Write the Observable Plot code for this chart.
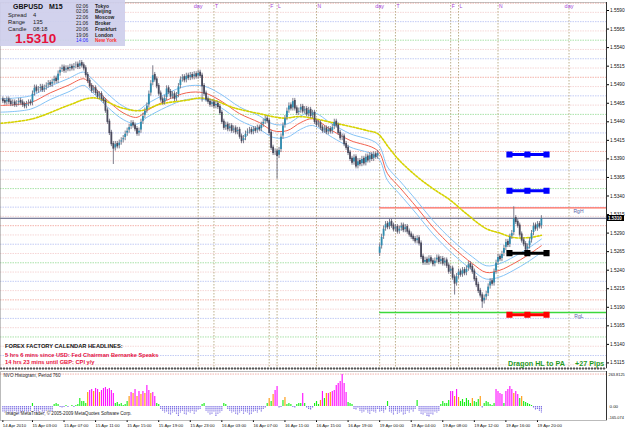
<!DOCTYPE html>
<html>
<head>
<meta charset="utf-8">
<script src="https://cdn.jsdelivr.net/npm/d3@7"></script>
<script src="https://cdn.jsdelivr.net/npm/@observablehq/plot@0.6"></script>
<style>
  html, body { margin:0; padding:0; background:#fff; }
  #chart { position:relative; width:625px; height:429px; overflow:hidden; font-family:"Liberation Sans", Arial, sans-serif; background:#fff; }
  #chart > svg { position:absolute; left:0; }
  .ov { position:absolute; white-space:nowrap; line-height:1; }
</style>
</head>
<body>
<div id="chart"></div>
<script>
// ================= DATA =================
// Bar index: 0 = 15 Apr 2010 00:00 (M15 bars). First bar = 14 Apr 23:15.
const FIRST_BAR = -3;
// GBPUSD closes, in pips above 1.5000
const closePips = [
  468,466,470,467,464,466,463,465,468,466,463,461,464,466,465,
  478,486,482,484,487,483,486,489,492,490,494,498,495,
  505,510,513,509,512,511,514,512,515,517,514,519,516,512,
  503,495,488,482,485,479,474,477,471,468,
  455,440,425,410,404,410,407,412,
  415,418,424,428,433,438,435,
  430,424,428,440,448,455,462,
  478,492,503,497,488,
  478,470,466,472,
  485,480,474,477,471,476,
  488,497,500,496,502,499,503,500,504,501,506,502,488,
  478,470,
  467,463,466,461,464,460,
  452,440,432,436,
  430,434,428,431,426,429,
  420,414,418,
  424,427,429,426,430,428,432,430,436,440,444,441,
  425,405,398,
  400,394,402,
  420,435,445,
  455,462,458,468,
  458,452,455,
  460,454,457,450,456,448,452,
  440,436,438,432,428,431,426,430,427,433,
  440,435,
  425,418,420,410,405,
  398,390,385,392,380,387,383,
  390,384,393,388,395,390,396,393,398,
  // Monday 19 Apr
  272,285,
  296,302,298,305,
  300,295,298,292,296,300,294,298,292,288,
  285,282,279,283,276,
  258,250,
  254,250,256,252,248,253,257,251,255,249,253,
  246,238,242,230,222,232,
  238,234,240,236,242,
  248,244,238,
  228,220,212,206,198,203,208,
  218,225,222,
  238,250,258,255,262,
  270,278,274,285,290,
  310,305,300,
  288,280,275,268,272,
  280,290,
  300,296,302,299,310
];
const firstOpenPips = 470;
const gapOpens = [{i: 188, o: 262}];            // Monday opening price after the weekend gap
const longWicks = [
  {i: 53, lo: 386}, {i: 98, lo: 470}, {i: 136, lo: 366}, {i: 226, lo: 210},
  {i: 240, lo: 192}, {i: 73, hi: 512}, {i: 256, hi: 322}
];

// Moving averages (knots: bar index, pips above 1.5000)
const slowMA_i = [-4,12,30,41,46,57,67,77,90,97,104,114,127,139,148,164,182,187,193,198,207,215,224,232,242,249,256,264,270];
const slowMA_p = [438,444,462,472,471,459,455,464,469,472,469,459,451,445,447,439,428,424,404,388,366,350,334,316,296,290,284,284,287];
const fastMA_i = [-4,11,21,30,38,41,50,58,65,70,80,90,99,107,117,127,134,141,148,154,164,173,187,192,198,207,215,225,235,242,249,256,263,270];
const fastMA_p = [462,466,479,489,498,492,469,452,446,455,469,479,479,469,451,439,428,428,439,444,428,415,401,370,352,324,298,271,249,237,240,249,260,273];
const envUp_p  = [471,475,488,498,507,501,478,461,455,464,478,488,488,478,460,448,437,437,448,453,437,424,410,379,361,333,307,280,258,246,249,258,269,282];
const envLo_p  = [453,457,470,480,489,483,460,443,437,446,460,470,470,460,442,430,419,419,430,435,419,406,392,361,343,315,289,262,240,228,231,240,251,264];

// Session separators
const sessionIdx    = [96, 104, 132, 136, 156, 188, 196, 224, 228, 248, 284];
const sessionLabels = ["day","T","F","L","N","day","T","F","L","N","day"];

// Range lines and level markers
const rangeLabels = ["RgH", "RgL"];
const rangePrices = [1.5324, 1.5183];
const rangeColors = ["#ff6a5a", "#3cd83c"];
const rangeStart = 188;
const levelNames  = ["blue1", "blue2", "black", "red"];
const levelPrices = [1.5396, 1.5347, 1.5263, 1.5180];
const levelColors = ["#0000ff", "#0000ff", "#000000", "#ff0000"];
const levelTimes  = [253.8, 262.9, 272.6];
const currentPrice = 1.5310;

// Price axis
const priceTicks = [1.5115,1.5140,1.5165,1.5190,1.5215,1.5240,1.5265,1.5290,1.5315,1.5340,
                    1.5365,1.5390,1.5415,1.5440,1.5465,1.5490,1.5515,1.5540,1.5565,1.5590];
// Time axis
const timeTicks  = [-3,12,28,44,60,76,92,108,124,140,156,172,188,204,220,236,252,268];
const timeLabels = ["14 Apr 2010","15 Apr 03:00","15 Apr 07:00","15 Apr 11:00","15 Apr 15:00","15 Apr 19:00",
  "15 Apr 23:00","16 Apr 03:00","16 Apr 07:00","16 Apr 11:00","16 Apr 15:00","16 Apr 19:00",
  "19 Apr 00:00","19 Apr 04:00","19 Apr 08:00","19 Apr 12:00","19 Apr 16:00","19 Apr 20:00"];

// NVO histogram, Period 760 (one value per bar)
const histValues = [
  -48,-56,-40,-64,-48,-56,-40,-48,-64,-56,-48,-40,-56,-48,-40,
  24,
  -40,-56,-48,-32,-48,-56,-40,-32,-48,-40,
  16,24,
  16,-8,-16,-8,8,-8,0,8,-8,8,16,
  64,40,40,24,
  112,128,136,120,144,136,112,128,144,152,136,144,128,104,
  24,32,16,24,8,16,40,
  80,112,104,136,80,120,96,
  120,104,168,128,104,112,80,24,
  16,
  -24,-40,-56,-48,-64,-72,-56,-48,-64,-80,-56,-40,-64,-72,-48,-56,-40,-64,-48,-32,-24,
  16,24,
  -40,-56,-72,-64,-48,-80,-64,-56,-40,
  24,16,
  -24,-40,-56,-48,-64,-72,-56,-40,-64,-48,-56,-72,-64,-48,-40,-56,-32,-48,-24,-16,
  24,64,40,96,128,160,
  -16,-8,
  48,72,16,
  24,16,-8,-16,16,24,
  24,104,24,
  -16,-24,-32,-16,
  24,40,16,
  48,120,64,104,104,112,120,
  128,168,184,200,256,184,112,
  32,24,16,
  -24,-32,-16,-40,-56,-48,-32,-56,-64,-40,-48,-56,-24,-48,-40,-56,-32,
  40,
  -48,-56,-72,-40,-64,-56,-48,-72,-64,-40,-56,-32,-48,-24,
  48,
  -40,-64,-72,-56,-80,-88,-64,-72,-48,-56,-40,
  16,40,24,
  24,48,120,120,80,136,72,
  40,56,32,64,48,24,64,40,32,56,80,
  -16,24,40,32,16,8,
  24,136,120,104,96,
  24,120,136,160,136,104,120,96,
  64,80,40,32,
  24,16,8,
  -16,-32,-24,-40,-56
];
const magentaBars = [41,42,44,45,47,48,49,50,51,52,53,62,64,66,68,70,71,73,74,135,136,149,159,162,164,165,166,167,168,169,170,171,224,225,227,247,248,249,250,252,253,254,255,257,258];
const orangeBars  = [40,43,46,61,63,65,67,69,72,132,134,140,158,161,163,226,228,235,239,256,260];
const histAxisLabels = ["263.8125", "0.00", "-165.074"];

// Texts
const symbolTitle = ["GBPUSD", "M15"];
const infoStats = [["Spread", "4"], ["Range", "135"], ["Candle", "08:18"]];
const bigPrice = "1.5310";
const clocks = [["02:06","Tokyo"],["02:06","Beijing"],["22:06","Moscow"],["21:06","Broker"],
                ["20:06","Frankfurt"],["19:06","London"],["14:06","New York"]];
const headlines = ["FOREX FACTORY CALENDAR  HEADLINES:",
                   "5 hrs 6 mins since USD: Fed Chairman Bernanke Speaks",
                   "14 hrs 23 mins until GBP: CPI y/y"];
const dragonText = ["Dragon HL to PA", "+27 Pips"];
const histTitle = "NVO Histogram, Period 760";
const copyright = "Image: MetaTrader, \u00A9 2005-2009 MetaQuotes Software Corp.";

// ================= BUILD =================
const toP = v => 1.5 + v / 10000;
const bars = closePips.map((c, k) => {
  const i = FIRST_BAR + k;
  const g = gapOpens.find(d => d.i === i);
  const oP = g ? g.o : (k === 0 ? firstOpenPips : closePips[k - 1]);
  let hi = Math.max(oP, c), lo = Math.min(oP, c);
  const w = longWicks.find(d => d.i === i);
  if (w && w.lo !== undefined) lo = Math.min(lo, w.lo);
  if (w && w.hi !== undefined) hi = Math.max(hi, w.hi);
  return {i, o: toP(oP), c: toP(c), hi: toP(hi), lo: toP(lo), up: c >= oP};
});
const mk = (is, ps) => is.map((i, k) => ({i, p: toP(ps[k])}));
const slowMA = mk(slowMA_i, slowMA_p);
const fastMA = mk(fastMA_i, fastMA_p);
const envUp = mk(fastMA_i, envUp_p);
const envLo = mk(fastMA_i, envLo_p);

const gridLevels = d3.range(100, 601, 12.5).map(v => {
  const m = v % 100;
  const color = m === 0 ? "#f3aaa2" : (m === 25 || m === 75) ? "#bcc6f4" : m === 50 ? "#9fe09f" : "#f5d2d2";
  return {p: toP(v), color};
});
const sessions = sessionIdx.map((i, k) => ({i, label: sessionLabels[k]}));
const rangeRows = rangeLabels.map((label, k) => ({label, p: rangePrices[k], color: rangeColors[k]}));
const levelRows = [];
levelNames.forEach((n, k) => levelTimes.forEach(t => levelRows.push({name: n, i: t, p: levelPrices[k], color: levelColors[k]})));

const xDomain = [-4.2, 303];
const yDomain = [1.51075, 1.56008];
const font = "Liberation Sans, Arial, sans-serif";

const main = Plot.plot({
  width: 625, height: 369,
  marginTop: 2, marginBottom: 1, marginLeft: 0, marginRight: 19,
  x: {domain: xDomain, axis: null, label: null},
  y: {domain: yDomain, axis: null, label: null},
  color: {type: "identity"},
  style: {fontFamily: font, fontSize: "5px", background: "transparent", overflow: "visible"},
  marks: [
    Plot.ruleY(gridLevels, {y: "p", stroke: "color", strokeWidth: 0.9, strokeDasharray: "1.5,1"}),
    Plot.ruleX(sessions, {x: "i", stroke: "#b5a77f", strokeWidth: 0.9, strokeDasharray: "1.5,1.5"}),
    Plot.text(sessions.filter(d => d.label === "day"), {x: "i", text: "label", frameAnchor: "top", lineAnchor: "middle", dy: 3.5, fill: "#a33fd6", fontSize: 5.5}),
    Plot.text(sessions.filter(d => d.label !== "day"), {x: "i", text: "label", frameAnchor: "top", lineAnchor: "middle", dy: 3.5, dx: 1, textAnchor: "start", fill: "#a33fd6", fontSize: 5}),
    // range lines
    Plot.ruleY(rangeRows, {y: "p", x1: rangeStart, x2: xDomain[1], stroke: "color", strokeWidth: 1.3}),
    Plot.text(rangeRows, {y: "p", text: "label", frameAnchor: "right", textAnchor: "end", dx: -23, dy: 3.5, fill: "#5a64a8", fontSize: 5}),
    // current price line
    Plot.ruleY([currentPrice], {stroke: "#56587e", strokeWidth: 1}),
    // envelopes and moving averages
    Plot.line(envUp, {x: "i", y: "p", stroke: "#86c4f6", strokeWidth: 1, curve: "catmull-rom"}),
    Plot.line(envLo, {x: "i", y: "p", stroke: "#86c4f6", strokeWidth: 1, curve: "catmull-rom"}),
    Plot.line(fastMA, {x: "i", y: "p", stroke: "#f2614e", strokeWidth: 1, curve: "catmull-rom"}),
    Plot.line(slowMA, {x: "i", y: "p", stroke: "#d6d200", strokeWidth: 1.6, strokeDasharray: "2,1.6", curve: "catmull-rom"}),
    // candles
    Plot.ruleX(bars, {x: "i", y1: "hi", y2: "lo", stroke: "#6e6e80", strokeWidth: 0.9, insetTop: -2.6, insetBottom: -2.6}),
    Plot.ruleX(bars, {x: "i", y1: "o", y2: "c", stroke: d => d.up ? "#2f8db0" : "#4a4a5c", strokeWidth: 1.8, insetTop: -0.6, insetBottom: -0.6}),
    // level markers
    ...levelNames.map(n => Plot.line(levelRows.filter(d => d.name === n), {x: "i", y: "p", stroke: "color", strokeWidth: 3})),
    Plot.dot(levelRows, {x: "i", y: "p", symbol: "square", r: 2.6, fill: "color", stroke: "color"}),
    // axis & borders
    Plot.axisY({anchor: "right", label: null, ticks: priceTicks, tickFormat: d3.format(".4f"), tickSize: 2, tickPadding: 1.5, fontSize: 4.8, fill: "#111"}),
    Plot.frame({stroke: "#888", strokeDasharray: "1,1"}),
    Plot.ruleX([xDomain[1]], {stroke: "#333", strokeWidth: 1}),
    Plot.ruleY([yDomain[0]], {stroke: "#555", strokeWidth: 2, strokeDasharray: "2,1"})
  ]
});
main.style.top = "0px";

const histRows = histValues.map((v, k) => {
  const i = FIRST_BAR + k;
  const color = v < 0 ? "#7f72e4" : magentaBars.includes(i) ? "#ff14ff" : orangeBars.includes(i) ? "#ff9a10" : "#18ee18";
  return {i, v, color};
});

const hist = Plot.plot({
  width: 625, height: 59,
  marginTop: 1, marginBottom: 9, marginLeft: 0, marginRight: 19,
  x: {domain: xDomain, axis: null, label: null},
  y: {domain: [-112, 280], axis: null, label: null},
  color: {type: "identity"},
  style: {fontFamily: font, fontSize: "5px", background: "transparent", overflow: "visible"},
  marks: [
    Plot.ruleX(histRows.filter(d => d.v >= 0), {x: "i", y1: 0, y2: "v", stroke: "color", strokeWidth: 1.15}),
    Plot.ruleX(histRows.filter(d => d.v < 0), {x: "i", y1: 0, y2: "v", stroke: "color", strokeWidth: 1.15, strokeDasharray: "1.2,0.6"}),
    Plot.text([histTitle], {frameAnchor: "top-left", lineAnchor: "middle", dx: 3, dy: 4, fill: "#222", fontSize: 4.6}),
    Plot.text([copyright], {frameAnchor: "bottom-left", lineAnchor: "middle", dx: 5, dy: -7, fill: "#222", fontSize: 4.6}),
    Plot.axisY({anchor: "right", label: null, ticks: [0], tickFormat: () => histAxisLabels[1], tickSize: 0, tickPadding: 3, fontSize: 4.4, fill: "#111"}),
    Plot.text([histAxisLabels[0]], {frameAnchor: "top-right", lineAnchor: "middle", textAnchor: "start", dx: 2, dy: 3, fill: "#111", fontSize: 3.9}),
    Plot.text([histAxisLabels[2]], {frameAnchor: "bottom-right", lineAnchor: "middle", textAnchor: "start", dx: 2, dy: -3, fill: "#111", fontSize: 3.9}),
    Plot.axisX({label: null, ticks: timeTicks, tickFormat: d => timeLabels[timeTicks.indexOf(d)], tickSize: 2, tickPadding: 1, textAnchor: "start", fontSize: 4.3, fill: "#111"}),
    Plot.frame({stroke: "#777", strokeDasharray: "1,1"}),
    Plot.ruleX([xDomain[1]], {stroke: "#333", strokeWidth: 1})
  ]
});
hist.style.top = "370px";

const chart = document.getElementById("chart");
chart.appendChild(main);
chart.appendChild(hist);

function addText(txt, left, top, css) {
  const d = document.createElement("div");
  d.className = "ov";
  d.textContent = txt;
  d.style.left = left + "px";
  d.style.top = top + "px";
  Object.assign(d.style, css || {});
  chart.appendChild(d);
  return d;
}

// Info box
const box = document.createElement("div");
Object.assign(box.style, {position: "absolute", left: "0px", top: "0px", width: "125px", height: "46px", background: "rgba(206,206,236,0.92)"});
chart.appendChild(box);
addText(symbolTitle[0], 13, 2.5, {font: "bold 7px " + font, color: "#111"});
addText(symbolTitle[1], 49, 2.5, {font: "bold 7px " + font, color: "#111"});
infoStats.forEach(([k, v], r) => {
  addText(k, 8, 12.3 + r * 7, {font: "5.8px " + font, color: "#222"});
  addText(v, 33, 12.3 + r * 7, {font: "5.8px " + font, color: "#222"});
});
addText(bigPrice, 15, 31, {font: "bold 13.5px " + font, color: "#e4123c"});
clocks.forEach(([t, c], r) => {
  const last = r === clocks.length - 1;
  addText(t, 76, 3.6 + r * 5.8, {font: "4.9px " + font, color: last ? "#2a2aff" : "#222"});
  addText(c, 95, 3.6 + r * 5.8, {font: "bold 4.9px " + font, color: last ? "#ff3030" : "#222"});
});

// Calendar headlines
addText(headlines[0], 5, 342.8, {font: "bold 5.7px " + font, color: "#111"});
addText(headlines[1], 5, 352, {font: "bold 5.7px " + font, color: "#e8103c"});
addText(headlines[2], 5, 359.2, {font: "bold 5.7px " + font, color: "#e8103c"});

// Dragon text
addText(dragonText[0], 508, 359, {font: "bold 7.2px " + font, color: "#1f9a1f"});
addText(dragonText[1], 575, 359, {font: "bold 7.2px " + font, color: "#1f9a1f"});

// Current price tag on the axis
const yCur = main.scale("y").apply(currentPrice);
addText(bigPrice, 607, yCur - 2.6, {font: "bold 4.5px " + font, color: "#fff", background: "#000", padding: "0.5px 1px", width: "15px"});
</script>
</body>
</html>
